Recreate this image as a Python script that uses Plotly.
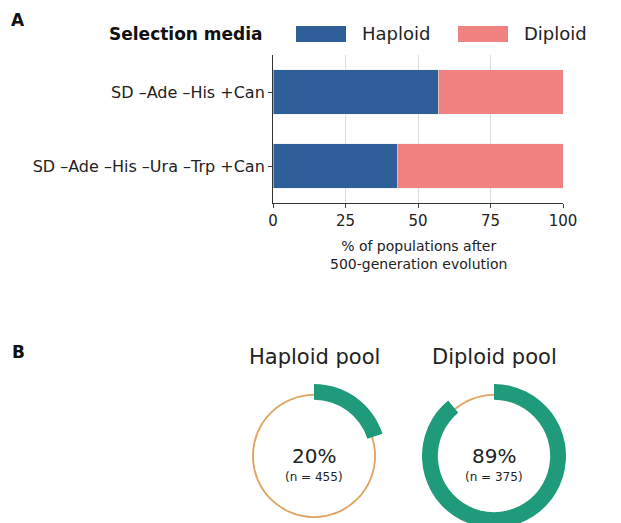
import plotly.graph_objects as go

media = ["SD –Ade –His +Can", "SD –Ade –His –Ura –Trp +Can"]
haploid_pct = [57, 43]
diploid_pct = [43, 57]
n_pops = ["[184]", "[183]"]

pools = ["Haploid pool", "Diploid pool"]
pool_pct = [20, 89]
pool_n = [455, 375]

W, H = 621, 523
OFF = 8  # page body margin
BLUE, PINK = "#2f5f98", "#f08282"
GREEN, ORANGE = "#1f9a7a", "#e0a461"
FONT = "DejaVu Sans"

def X(p):
    return (p - OFF) / W

def Y(p):
    return 1 - (p - OFF) / H

def px_x(a, b):
    return [X(a), X(b)]

def px_y(top, bot):
    return [Y(bot), Y(top)]

def label(x, y, text, size, color="#222", xanchor="center"):
    fig.add_annotation(x=X(x), y=Y(y), xref="paper", yref="paper", text=text,
                       showarrow=False, xanchor=xanchor, yanchor="middle",
                       font=dict(size=size, color=color))

fig = go.Figure()
fig.add_trace(go.Bar(y=media, x=haploid_pct, orientation="h", name="Haploid",
                     marker_color=BLUE, width=0.6))
fig.add_trace(go.Bar(y=media, x=diploid_pct, orientation="h", name="Diploid",
                     marker_color=PINK, width=0.6))

for m, n in zip(media, n_pops):
    fig.add_annotation(x=101.5, y=m, text=n, showarrow=False, xanchor="left",
                       yshift=14, font=dict(size=11, color="#333"))

# donuts
centers = [(314, 456), (494, 456)]
for (cx, cy), p, n, title in zip(centers, pool_pct, pool_n, pools):
    r = 62
    fig.add_trace(go.Pie(values=[1], hole=0.97, sort=False, textinfo="none",
                         marker=dict(colors=[ORANGE]), showlegend=False,
                         hoverinfo="skip",
                         domain=dict(x=px_x(cx - r, cx + r), y=px_y(cy - r, cy + r))))
    R = 72
    fig.add_trace(go.Pie(values=[p, 100 - p], hole=0.78, sort=False,
                         direction="clockwise", rotation=0, textinfo="none",
                         marker=dict(colors=[GREEN, "rgba(0,0,0,0)"]),
                         showlegend=False,
                         domain=dict(x=px_x(cx - R, cx + R), y=px_y(cy - R, cy + R))))
    label(cx, cy, f"{p}%", 20)
    label(cx, cy + 21, f"(n = {n})", 12)
    label(cx, 357, title, 21)

label(18, 20, "<b>A</b>", 17, "#111")
label(18, 352, "<b>B</b>", 17, "#111")
label(186, 34, "<b>Selection media</b>", 17, "#111")
label(418, 255, "% of populations after<br>500-generation evolution", 14)

# legend swatches
for x0, col, name in [(296, BLUE, "Haploid"), (458, PINK, "Diploid")]:
    fig.add_shape(type="rect", xref="paper", yref="paper", x0=X(x0), x1=X(x0 + 50),
                  y0=Y(42), y1=Y(26), fillcolor=col, line_width=0)
    label(x0 + 64, 33, name, 18, xanchor="left")

fig.update_layout(
    width=W, height=H, barmode="stack", plot_bgcolor="white", paper_bgcolor="white",
    margin=dict(l=0, r=0, t=0, b=0, autoexpand=False),
    font=dict(family=FONT, size=14, color="#222"),
    showlegend=False,
    xaxis=dict(domain=px_x(273, 563), range=[0, 100], tickvals=[0, 25, 50, 75, 100],
               showgrid=True, gridcolor="#dcdcdc", zeroline=False, ticks="outside",
               ticklen=4, showline=True, linecolor="#333", anchor="y",
               tickfont=dict(size=15)),
    yaxis=dict(domain=px_y(55, 203), autorange="reversed", showgrid=False,
               ticks="outside", ticklen=4, showline=True, linecolor="#333",
               tickfont=dict(size=16)),
)
fig.write_html("out.html")
